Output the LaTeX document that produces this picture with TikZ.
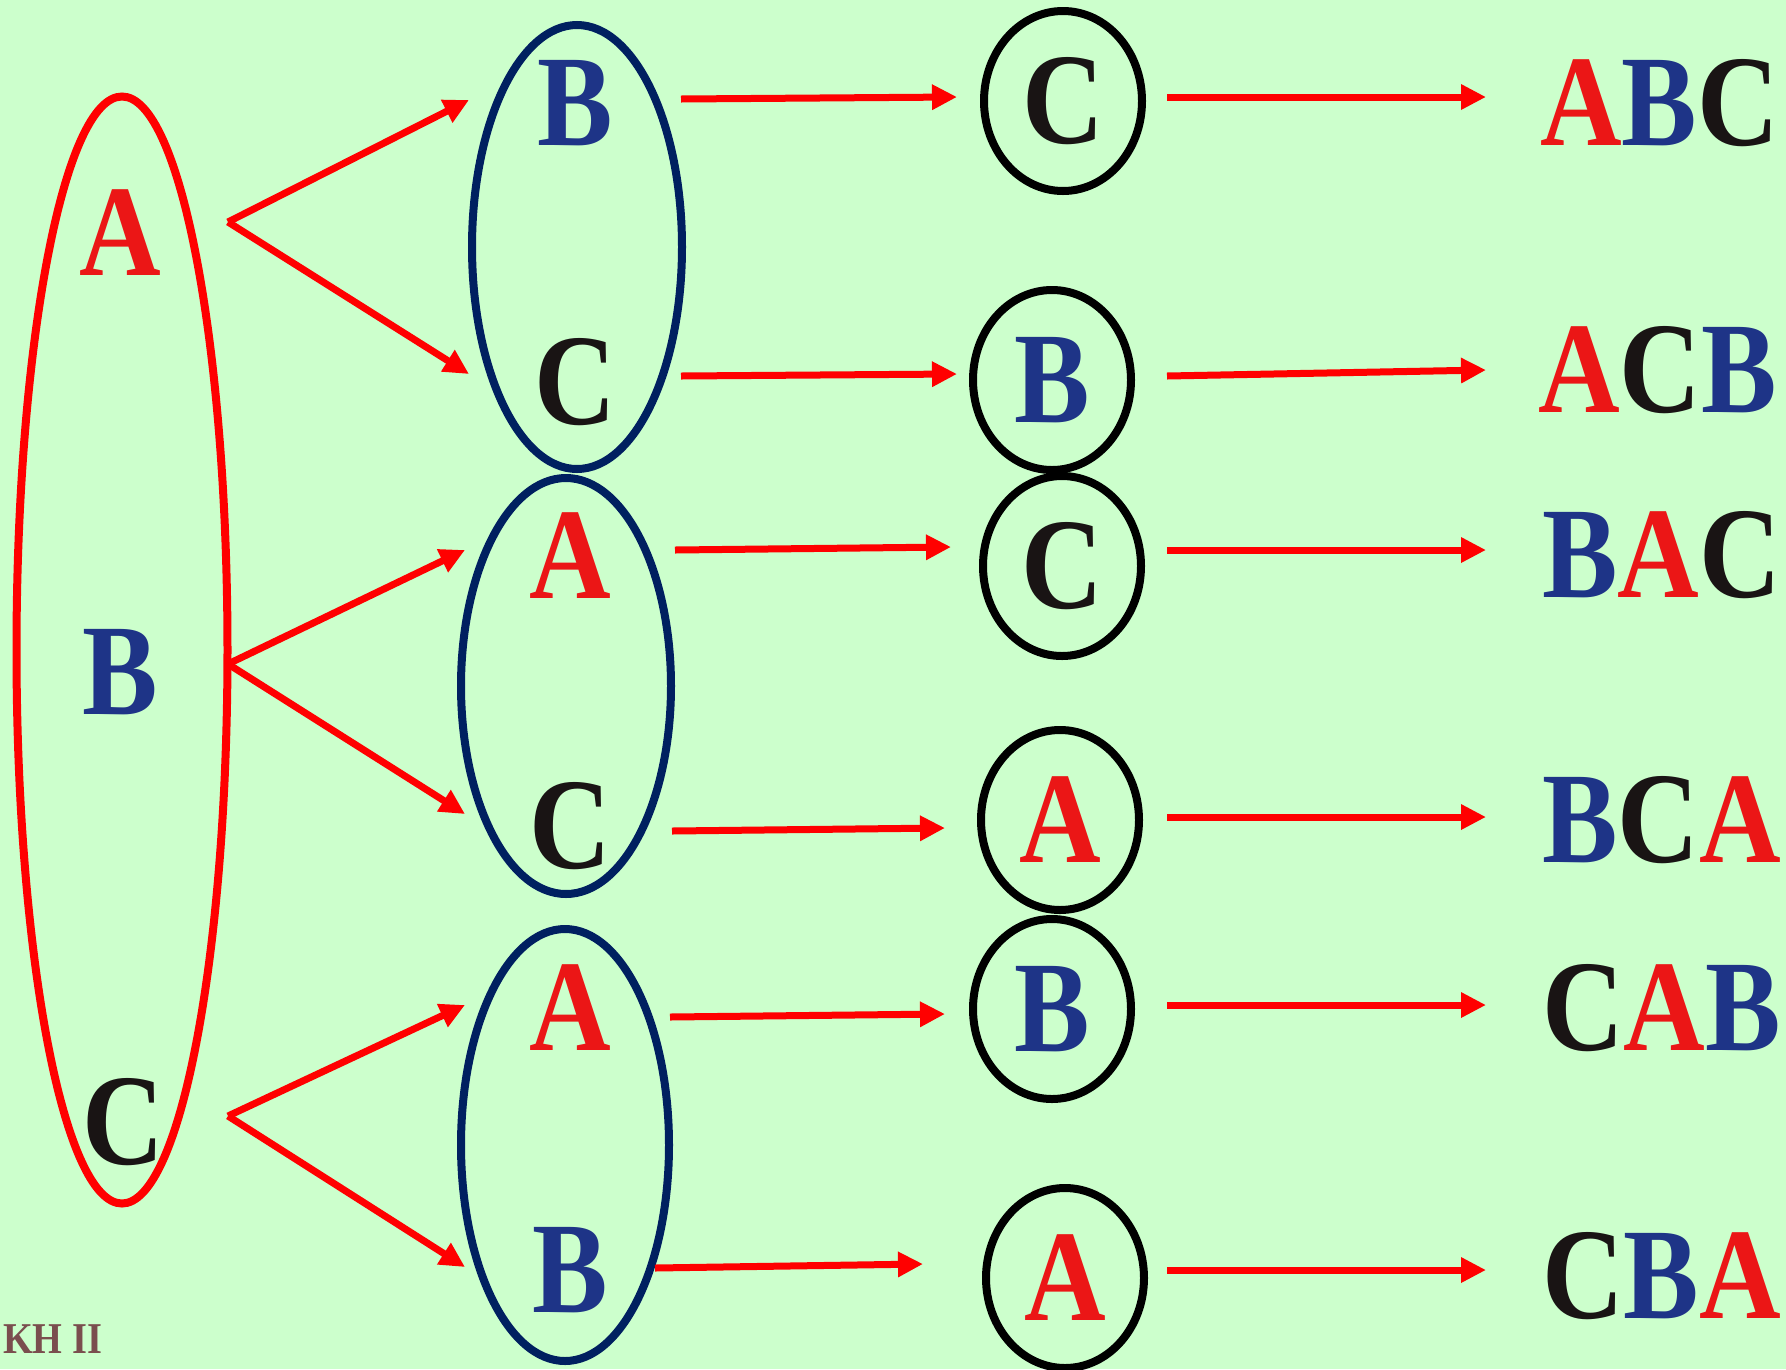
\documentclass[tikz,border=0pt]{standalone}
\usepackage{fontspec}
\setmainfont{Liberation Serif}[FakeStretch=0.87]
\usetikzlibrary{arrows.meta,shapes.geometric}
\definecolor{bg}{RGB}{204,255,204}
\definecolor{lr}{RGB}{235,22,22}
\definecolor{lb}{RGB}{30,52,135}
\definecolor{lk}{RGB}{25,20,20}
\definecolor{navy}{RGB}{0,32,96}
\definecolor{ar}{RGB}{255,0,0}
\definecolor{kh}{RGB}{122,78,78}
\begin{document}
\begin{tikzpicture}[x=1pt,y=-1pt,
  ltr/.style={font=\fontsize{130}{130}\selectfont\bfseries, inner sep=0pt},
  la/.style={ltr, text=lr},
  lbl/.style={ltr, text=lb},
  lc/.style={ltr, text=lk},
  bigring/.style={ellipse, draw=ar, line width=8pt, inner sep=0pt},
  bluering/.style={ellipse, draw=navy, line width=8pt, inner sep=0pt},
  blackring/.style={ellipse, draw=black, line width=8pt, inner sep=0pt, minimum width=158pt, minimum height=180pt},
  arr/.style={draw=ar, line width=7pt, -{Triangle[length=25pt,width=24pt]}},
]
\fill[bg] (0,0) rectangle (1786,1369);
\useasboundingbox (0,0) rectangle (1786,1369);

% column 1
\node[bigring, minimum width=211pt, minimum height=1107pt] (big) at (122,650) {};
\node[la]  (a1) at (120,233) {A};
\node[lbl] (b1) at (120,672) {B};
\node[lc]  (c1) at (123,1122) {C};
\coordinate (f1) at (228,222);
\coordinate (f2) at (228,664);
\coordinate (f3) at (228,1116);

% column 2
\node[bluering, minimum width=210pt, minimum height=444pt] (e1) at (577,247) {};
\node[bluering, minimum width=210pt, minimum height=416pt] (e2) at (566,686) {};
\node[bluering, minimum width=208pt, minimum height=432pt] (e3) at (565,1145) {};
\node[lbl] (m1) at (575,103) {B};
\node[lc]  (m2) at (575,382) {C};
\node[la]  (m3) at (570,556) {A};
\node[lc]  (m4) at (570,826) {C};
\node[la]  (m5) at (570,1008) {A};
\node[lbl] (m6) at (570,1270) {B};

% column 3
\node[blackring, ltr, text=lk] (k1) at (1063,101) {C};
\node[blackring, ltr, text=lb] (k2) at (1052,380) {B};
\node[blackring, ltr, text=lk] (k3) at (1062,566) {C};
\node[blackring, ltr, text=lr] (k4) at (1060,820) {A};
\node[blackring, ltr, text=lb] (k5) at (1052,1009) {B};
\node[blackring, ltr, text=lr] (k6) at (1065,1278) {A};

% results
\node[ltr, anchor=west] (r1) at (1540,103)  {\textcolor{lr}{A}\textcolor{lb}{B}\textcolor{lk}{C}};
\node[ltr, anchor=west] (r2) at (1538,370)  {\textcolor{lr}{A}\textcolor{lk}{C}\textcolor{lb}{B}};
\node[ltr, anchor=west] (r3) at (1542,555)  {\textcolor{lb}{B}\textcolor{lr}{A}\textcolor{lk}{C}};
\node[ltr, anchor=west] (r4) at (1542,820)  {\textcolor{lb}{B}\textcolor{lk}{C}\textcolor{lr}{A}};
\node[ltr, anchor=west] (r5) at (1542,1008) {\textcolor{lk}{C}\textcolor{lr}{A}\textcolor{lb}{B}};
\node[ltr, anchor=west] (r6) at (1542,1276) {\textcolor{lk}{C}\textcolor{lb}{B}\textcolor{lr}{A}};

% footer fragment
\node[font=\fontsize{44}{44}\selectfont\bfseries, text=kh, inner sep=0pt, anchor=west] (kh) at (3,1339) {KH II};

% arrows column 1 -> column 2
\draw[arr] (f1) -- ([shift={(-106,-3)}]m1.center);
\draw[arr] (f1) -- ([shift={(-106,-8)}]m2.center);
\draw[arr] (f2) -- ([shift={(-105,-6)}]m3.center);
\draw[arr] (f2) -- ([shift={(-105,-12)}]m4.center);
\draw[arr] (f3) -- ([shift={(-105,-3)}]m5.center);
\draw[arr] (f3) -- ([shift={(-105,-3)}]m6.center);

% arrows column 2 -> column 3
\draw[arr] ([shift={(106,-4)}]m1.center) -- ([shift={(-106,-4)}]k1.center);
\draw[arr] ([shift={(106,-6)}]m2.center) -- ([shift={(-95,-6)}]k2.center);
\draw[arr] ([shift={(105,-6)}]m3.center) -- ([shift={(-111,-19)}]k3.center);
\draw[arr] ([shift={(102,5)}]m4.center) -- ([shift={(-115,8)}]k4.center);
\draw[arr] ([shift={(100,9)}]m5.center) -- ([shift={(-107,5)}]k5.center);
\draw[arr] ([shift={(85,-2)}]m6.center) -- ([shift={(-142,-14)}]k6.center);

% arrows column 3 -> results
\draw[arr] ([shift={(104,-4)}]k1.center) -- ([shift={(-54,-6)}]r1.west);
\draw[arr] ([shift={(115,-4)}]k2.center) -- ([shift={(-52,0)}]r2.west);
\draw[arr] ([shift={(105,-16)}]k3.center) -- ([shift={(-56,-5)}]r3.west);
\draw[arr] ([shift={(107,-3)}]k4.center) -- ([shift={(-56,-3)}]r4.west);
\draw[arr] ([shift={(115,-4)}]k5.center) -- ([shift={(-56,-3)}]r5.west);
\draw[arr] ([shift={(102,-8)}]k6.center) -- ([shift={(-56,-6)}]r6.west);
\end{tikzpicture}
\end{document}
